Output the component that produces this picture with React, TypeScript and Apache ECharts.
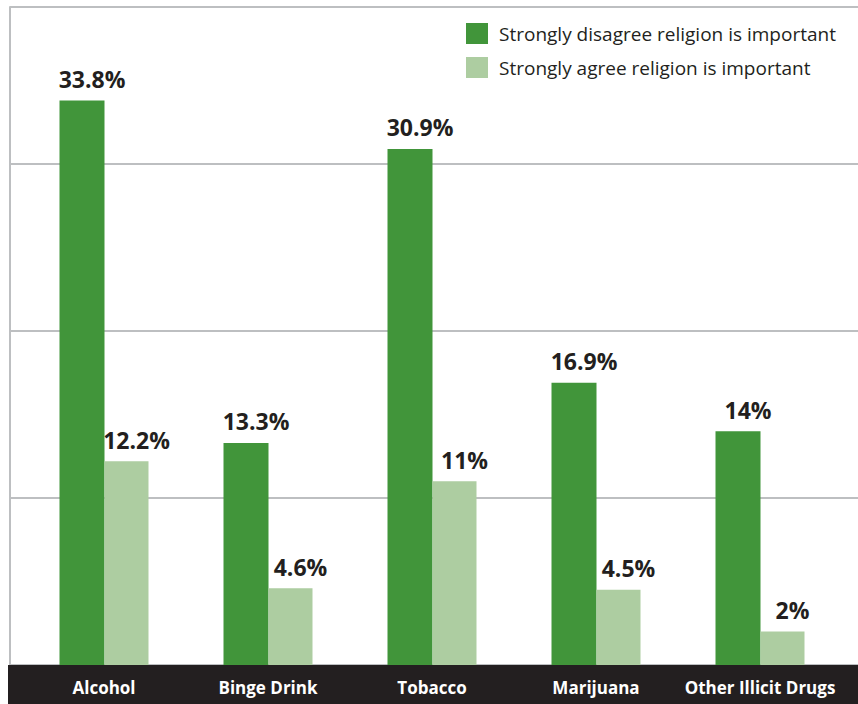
import React, { useEffect, useRef } from "react";
import * as echarts from "echarts";

const categories = ["Alcohol", "Binge Drink", "Tobacco", "Marijuana", "Other Illicit Drugs"];
const disagreeValues = [33.8, 13.3, 30.9, 16.9, 14];
const agreeValues = [12.2, 4.6, 11, 4.5, 2];
const seriesNames = ["Strongly disagree religion is important", "Strongly agree religion is important"];
const yTicks = [0, 10, 20, 30];

const DARK = "#41953a";
const LIGHT = "#adcda1";
const INK = "#231f20";
const GRID_GRAY = "#bdbfc1";

export default function App() {
  const ref = useRef<HTMLDivElement>(null);
  useEffect(() => {
    if (!ref.current) return;
    const chart = echarts.init(ref.current, undefined, { renderer: "svg" });
    const yMax = 39.4;
    const labelCommon = {
      show: true,
      position: "top" as const,
      distance: 10,
      offset: [10, 0],
      color: INK,
      fontFamily: "Open Sans",
      fontWeight: "bold" as const,
      fontSize: 23,
      formatter: (p: any) => `${p.value}%`,
    };
    chart.setOption({
      animation: false,
      backgroundColor: "#ffffff",
      grid: [
        { left: 10, right: 0, top: 7, bottom: 39, containLabel: false },
        { left: 22, right: 16, top: 7, bottom: 39, containLabel: false },
      ],
      legend: {
        orient: "vertical",
        left: 466,
        top: 23,
        padding: 0,
        itemWidth: 22,
        itemHeight: 21,
        itemGap: 13,
        icon: "rect",
        data: seriesNames,
        textStyle: { color: INK, fontSize: 19, fontFamily: "Open Sans", padding: [0, 0, 0, 6] },
      },
      xAxis: [
        { type: "value", gridIndex: 0, min: 0, max: 1, show: false },
        {
          type: "category",
          gridIndex: 1,
          data: categories,
          z: 10,
          axisLine: { show: false },
          axisTick: { show: false },
          axisLabel: {
            color: "#ffffff",
            fontFamily: "Open Sans",
            fontWeight: "bold",
            fontSize: 17,
            margin: 14,
            interval: 0,
          },
        },
      ],
      yAxis: [
        {
          type: "value",
          gridIndex: 0,
          min: yTicks[0],
          max: yMax,
          interval: 10,
          axisLabel: { show: false },
          axisTick: { show: false },
          axisLine: { show: true, lineStyle: { color: GRID_GRAY, width: 2 } },
          splitLine: { show: true, lineStyle: { color: GRID_GRAY, width: 2 } },
        },
        {
          type: "value",
          gridIndex: 1,
          min: yTicks[0],
          max: yMax,
          interval: 10,
          show: false,
          splitLine: { show: false },
        },
      ],
      graphic: {
        elements: [
          {
            type: "rect",
            z: 5,
            shape: { x: 8, y: 665, width: 850, height: 39 },
            style: { fill: INK },
          },
        ],
      },
      series: [
        {
          name: seriesNames[0],
          type: "bar",
          xAxisIndex: 1,
          yAxisIndex: 1,
          data: disagreeValues,
          barWidth: 45,
          barGap: "0%",
          itemStyle: { color: DARK },
          label: labelCommon,
        },
        {
          name: seriesNames[1],
          type: "bar",
          xAxisIndex: 1,
          yAxisIndex: 1,
          data: agreeValues,
          barWidth: 44,
          barGap: "0%",
          itemStyle: { color: LIGHT },
          label: labelCommon,
        },
      ],
    });
    return () => chart.dispose();
  }, []);
  return (
    <div
      ref={ref}
      style={{ position: "fixed", left: 0, top: 0, width: 858, height: 704 }}
    />
  );
}
